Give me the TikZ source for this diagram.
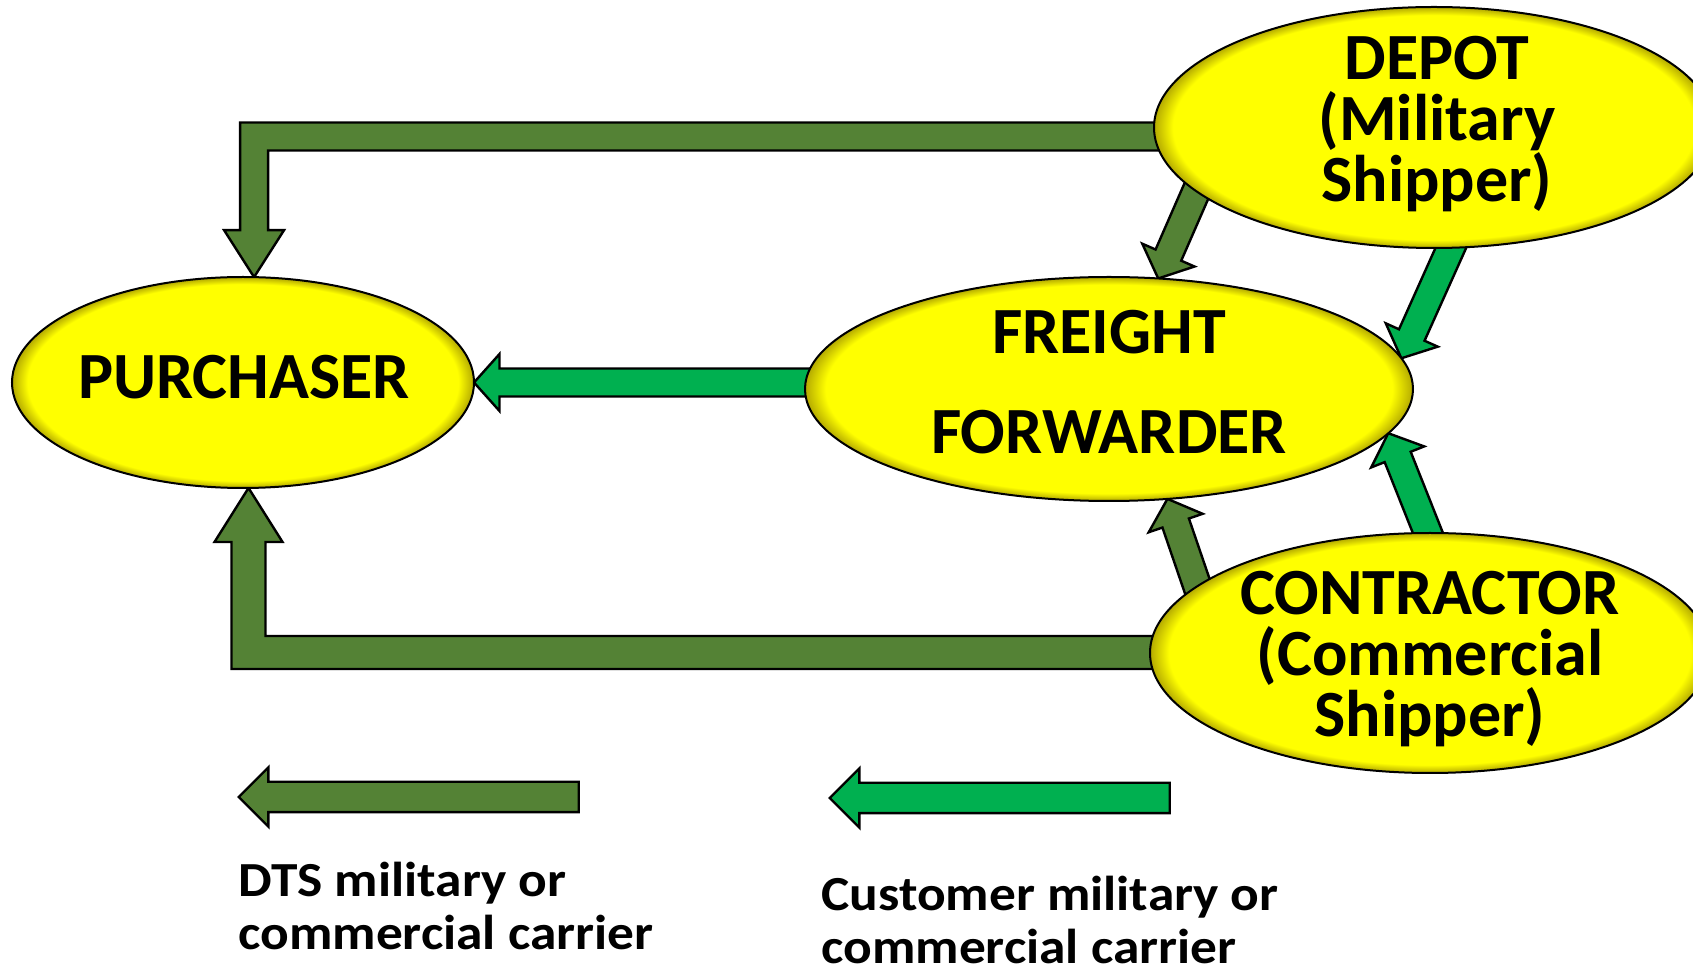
\documentclass[tikz,border=0pt]{standalone}
\usepackage{fontspec}
\setmainfont{Carlito}
\newfontfamily\legendfont[FakeStretch=1.09]{Carlito}
\usetikzlibrary{calc,shapes.geometric,shapes.arrows,backgrounds}

\definecolor{placefill}{RGB}{255,255,0}
\definecolor{placerim}{RGB}{180,170,0}
\definecolor{dtsgreen}{RGB}{84,130,53}
\definecolor{custgreen}{RGB}{0,176,80}

% yellow with a darker rim
\pgfdeclareradialshading{rimglow}{\pgfpoint{0bp}{0bp}}{color(0bp)=(placefill); color(23.3bp)=(placefill); color(25bp)=(placerim); color(50bp)=(placerim)}

\tikzset{
  station/.style={ellipse, draw=black, line width=1pt, shade, shading=rimglow, inner sep=0pt, outer sep=0pt},
  stationtext/.style={align=center, inner sep=0pt, font={\lineskiplimit=-50pt\fontsize{33}{30.5}\selectfont\bfseries}},
  flow/.style={draw=black, line width=1.2pt, line join=miter},
  legendarrow/.style={single arrow, shape border rotate=180, anchor=tip, draw=black, line width=1.2pt, inner sep=7pt, single arrow head extend=7.25pt, minimum width=0pt, minimum height=170pt},
  legendtext/.style={align=left, anchor=base west, inner sep=0pt, font={\lineskiplimit=-50pt\legendfont\fontsize{24.5}{26.5}\selectfont\bfseries}}
}

% block arrow from (#2) to its tip (#3), filled with #1
\newcommand{\flowarrow}[3]{%
  \path ($(#2)!-25pt!(#3)$) coordinate (fa-s) ($(#3)!12.75pt!(#2)$) coordinate (fa-b);
  \draw[flow, fill=#1] ($(fa-s)!7pt!90:(#3)$) -- ($(fa-b)!7pt!90:(#3)$) -- ($(fa-b)!14.25pt!90:(#3)$) -- (#3)
    -- ($(fa-b)!14.25pt!-90:(#3)$) -- ($(fa-b)!7pt!-90:(#3)$) -- ($(fa-s)!7pt!-90:(#3)$) -- cycle;}

\begin{document}
\begin{tikzpicture}[x=0.5pt, y=-0.5pt]
  \useasboundingbox (0,0) rectangle (1693,972);

  % the four parties
  \node[station, minimum width=231pt, minimum height=105.5pt] (purchaser) at (243,382.5) {};
  \node[station, minimum width=304pt, minimum height=112pt] (freight) at (1109,389) {};
  \node[station, minimum width=280pt, minimum height=120.5pt] (depot) at (1434,127.5) {};
  \node[station, minimum width=280pt, minimum height=120pt] (contractor) at (1430,653) {};

  \node[stationtext] (purchasertext) at (244,377) {PURCHASER};
  \node[stationtext, font={\fontsize{33}{50}\selectfont\bfseries}] (freighttext) at (1109,382.5) {FREIGHT\\FORWARDER};
  \node[stationtext] (depottext) at (1437,124.5) {DEPOT\\(Military\\Shipper)};
  \node[stationtext] (contractortext) at (1430,659.5) {CONTRACTOR\\(Commercial\\Shipper)};

  % arrows behind the ellipses
  \begin{scope}[on background layer]
    \coordinate (dtstop) at (purchaser.84);
    \coordinate (dtsbottom) at (purchaser.273);
    \coordinate (ffout) at (freight.west |- purchaser.east);
    \draw[flow, fill=dtsgreen] (dtstop) -- ++(30,-47) -- ++(-16,0) |- ($(depot.center)+(0,23)$) -- ++(0,-28) -| ($(dtstop)+(-14,-47)$) -- ++(-16,0) -- cycle;
    \draw[flow, fill=dtsgreen] (dtsbottom) -- ++(34,54) -- ++(-17,0) |- ($(contractor.center)+(0,-17)$) -- ++(0,33) -| ($(dtsbottom)+(-17,54)$) -- ++(-17,0) -- cycle;
    \flowarrow{custgreen}{ffout}{purchaser.east}
    \flowarrow{dtsgreen}{depot.195}{freight.66}
    \flowarrow{custgreen}{depot.278}{freight.6}
    \flowarrow{dtsgreen}{contractor.164}{freight.298}
    \flowarrow{custgreen}{contractor.91}{freight.351}
  \end{scope}

  % legend
  \node[legendarrow, fill=dtsgreen] (dtskey) at (237,797) {};
  \node[legendarrow, fill=custgreen] (custkey) at (828,798) {};
  \node[legendtext] (dtstext) at (238,949) {DTS military or\\commercial carrier};
  \node[legendtext] (custtext) at (821,963) {Customer military or\\commercial carrier};
\end{tikzpicture}
\end{document}
